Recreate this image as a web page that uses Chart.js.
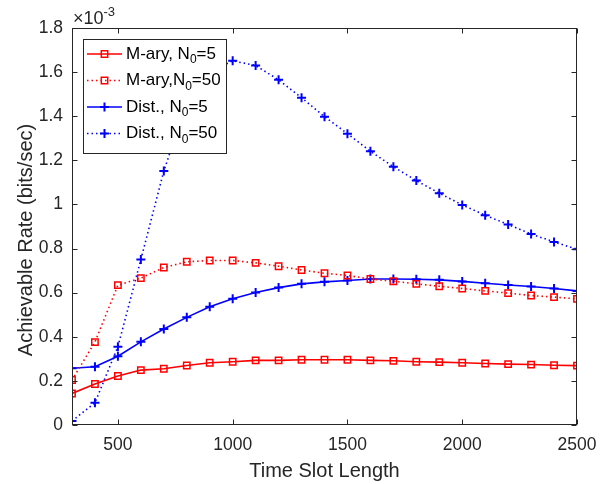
<!DOCTYPE html>
<html>
<head>
<meta charset="utf-8">
<script src="https://cdn.jsdelivr.net/npm/chart.js@4/dist/chart.umd.min.js"></script>
<style>
    html, body { margin: 0; padding: 0; background: #fff; }
    #wrap { width: 615px; height: 484px; }
</style>
</head>
<body>
<div id="wrap"><canvas id="rate-chart" width="615" height="484"></canvas></div>
<script>
// values are in units of 1e-3 bits/sec
const slotLength = [300, 400, 500, 600, 700, 800, 900, 1000, 1100, 1200, 1300, 1400,
    1500, 1600, 1700, 1800, 1900, 2000, 2100, 2200, 2300, 2400, 2500];
const maryN5 = [0.143, 0.186, 0.222, 0.249, 0.255, 0.270, 0.282, 0.287, 0.293, 0.293, 0.296, 0.296,
    0.296, 0.293, 0.291, 0.287, 0.285, 0.282, 0.279, 0.276, 0.274, 0.271, 0.269];
const maryN50 = [0.204, 0.376, 0.634, 0.666, 0.714, 0.740, 0.746, 0.746, 0.735, 0.720, 0.703, 0.688,
    0.678, 0.662, 0.652, 0.640, 0.629, 0.619, 0.608, 0.598, 0.587, 0.580, 0.572];
const distN5 = [0.257, 0.264, 0.312, 0.377, 0.435, 0.488, 0.536, 0.572, 0.601, 0.623, 0.640, 0.649,
    0.655, 0.662, 0.662, 0.661, 0.658, 0.651, 0.643, 0.635, 0.628, 0.619, 0.608];
const distN50 = [0.018, 0.101, 0.355, 0.750, 1.152, 1.460, 1.600, 1.651, 1.630, 1.565, 1.484, 1.398,
    1.321, 1.241, 1.171, 1.108, 1.051, 0.998, 0.951, 0.909, 0.866, 0.830, 0.797];
const xTicks = [500, 1000, 1500, 2000, 2500];
const yTicks = [0, 0.2, 0.4, 0.6, 0.8, 1, 1.2, 1.4, 1.6, 1.8];

const FONT = '"Liberation Sans", Arial, Helvetica, sans-serif';
const INK = '#262626';
const RED = '#ff0000';
const BLUE = '#0000ff';
const DOTS = [1.5, 3];

const series = [
    { label: 'M-ary, N', sub: '0', rest: '=5', data: maryN5, color: RED, marker: 'rect', dash: [] },
    { label: 'M-ary,N', sub: '0', rest: '=50', data: maryN50, color: RED, marker: 'rect', dash: DOTS },
    { label: 'Dist., N', sub: '0', rest: '=5', data: distN5, color: BLUE, marker: 'cross', dash: [] },
    { label: 'Dist., N', sub: '0', rest: '=50', data: distN50, color: BLUE, marker: 'cross', dash: DOTS },
];

const drawMarker = (ctx, style, x, y, color) => {
    ctx.save();
    ctx.strokeStyle = color;
    ctx.setLineDash([]);
    ctx.beginPath();
    if (style === 'rect') {
        ctx.lineWidth = 1.5;
        ctx.rect(x - 3.2, y - 3.2, 6.4, 6.4);
    } else {
        ctx.lineWidth = 2;
        ctx.moveTo(x - 4.5, y); ctx.lineTo(x + 4.5, y);
        ctx.moveTo(x, y - 4.5); ctx.lineTo(x, y + 4.5);
    }
    ctx.stroke();
    ctx.restore();
};

// box, inward ticks, exponent label, y title and legend in MATLAB style
const matlabAxes = {
    id: 'matlabAxes',
    afterDatasetsDraw(chart) {
        const ctx = chart.ctx;
        const a = chart.chartArea;
        const xs = chart.scales.x, ys = chart.scales.y;
        const L = Math.round(a.left) + 0.5, R = Math.round(a.right) - 0.5;
        const T = Math.round(a.top) + 0.5, B = Math.round(a.bottom) - 0.5;
        ctx.save();
        ctx.strokeStyle = INK;
        ctx.lineWidth = 1;
        ctx.setLineDash([]);
        ctx.strokeRect(L, T, R - L, B - T);
        ctx.beginPath();
        xTicks.forEach(v => {
            const px = Math.round(xs.getPixelForValue(v)) + 0.5;
            ctx.moveTo(px, B); ctx.lineTo(px, B - 5);
            ctx.moveTo(px, T); ctx.lineTo(px, T + 5);
        });
        yTicks.forEach(v => {
            const py = Math.round(ys.getPixelForValue(v)) + 0.5;
            ctx.moveTo(L, py); ctx.lineTo(L + 5, py);
            ctx.moveTo(R, py); ctx.lineTo(R - 5, py);
        });
        ctx.stroke();

        // x10^-3
        ctx.fillStyle = INK;
        ctx.textBaseline = 'alphabetic';
        ctx.textAlign = 'left';
        ctx.font = '18px ' + FONT;
        ctx.fillText('\u00d710', 73, 24);
        const w = ctx.measureText('\u00d710').width;
        ctx.font = '13px ' + FONT;
        ctx.fillText('-3', 73 + w, 16);

        // y axis title
        ctx.save();
        ctx.translate(26, 240);
        ctx.rotate(-Math.PI / 2);
        ctx.textAlign = 'center';
        ctx.textBaseline = 'middle';
        ctx.font = '20px ' + FONT;
        ctx.fillText('Achievable Rate (bits/sec)', 0, 0);
        ctx.restore();

        // legend
        const lx = 83.5, ly = 39.5, lw = 143, lh = 114;
        ctx.fillStyle = '#ffffff';
        ctx.fillRect(lx, ly, lw, lh);
        ctx.strokeStyle = INK;
        ctx.lineWidth = 1;
        ctx.strokeRect(lx, ly, lw, lh);
        const rows = [54, 80.5, 107, 133.5];
        series.forEach((s, i) => {
            const y = rows[i];
            ctx.save();
            ctx.strokeStyle = s.color;
            ctx.lineWidth = 1.6;
            ctx.setLineDash(s.dash);
            ctx.beginPath();
            ctx.moveTo(87, y); ctx.lineTo(122, y);
            ctx.stroke();
            ctx.restore();
            drawMarker(ctx, s.marker, 104.5, y, s.color);
            ctx.fillStyle = '#000000';
            ctx.textAlign = 'left';
            ctx.textBaseline = 'middle';
            ctx.font = '17px ' + FONT;
            ctx.fillText(s.label, 126, y);
            let tx = 126 + ctx.measureText(s.label).width;
            ctx.font = '12px ' + FONT;
            ctx.fillText(s.sub, tx, y + 6);
            tx += ctx.measureText(s.sub).width;
            ctx.font = '17px ' + FONT;
            ctx.fillText(s.rest, tx, y);
        });
        ctx.restore();
    }
};

const drawRateChart = () => {
    return new Chart(document.getElementById('rate-chart').getContext('2d'), {
        type: 'line',
        data: {
            datasets: series.map(s => ({
                label: s.label + s.sub + s.rest,
                data: slotLength.map((x, i) => ({ x: x, y: s.data[i] })),
                borderColor: s.color,
                backgroundColor: 'rgba(0,0,0,0)',
                borderWidth: 1.6,
                borderDash: s.dash,
                pointStyle: s.marker,
                pointRadius: 4.5,
                pointBorderWidth: s.marker === 'rect' ? 1.5 : 2,
                pointBorderColor: s.color,
                pointBackgroundColor: 'rgba(0,0,0,0)',
                fill: false,
                tension: 0,
            }))
        },
        options: {
            responsive: false,
            animation: false,
            events: [],
            layout: { padding: { left: 0, right: 38, top: 28, bottom: 0 } },
            plugins: {
                legend: { display: false },
                tooltip: { enabled: false },
            },
            scales: {
                x: {
                    type: 'linear',
                    min: 300,
                    max: 2500,
                    afterBuildTicks: (scale) => { scale.ticks = xTicks.map(v => ({ value: v })); },
                    afterFit: (scale) => { scale.height = 59; },
                    grid: { display: false, drawTicks: false },
                    border: { display: false },
                    ticks: {
                        color: INK,
                        font: { family: FONT, size: 17.5 },
                        padding: 10,
                        maxRotation: 0,
                        callback: (v) => String(v),
                    },
                    title: {
                        display: true,
                        text: 'Time Slot Length',
                        color: INK,
                        font: { family: FONT, size: 20 },
                        padding: { top: 0, bottom: 1 },
                    },
                },
                y: {
                    type: 'linear',
                    min: 0,
                    max: 1.8,
                    afterBuildTicks: (scale) => { scale.ticks = yTicks.map(v => ({ value: v })); },
                    afterFit: (scale) => { scale.width = 72; },
                    grid: { display: false, drawTicks: false },
                    border: { display: false },
                    ticks: {
                        color: INK,
                        font: { family: FONT, size: 17.5 },
                        padding: 9,
                        callback: (v) => String(+v.toFixed(1)),
                    },
                },
            },
        },
        plugins: [matlabAxes],
    });
};

let rateChart = drawRateChart();
</script>
</body>
</html>
